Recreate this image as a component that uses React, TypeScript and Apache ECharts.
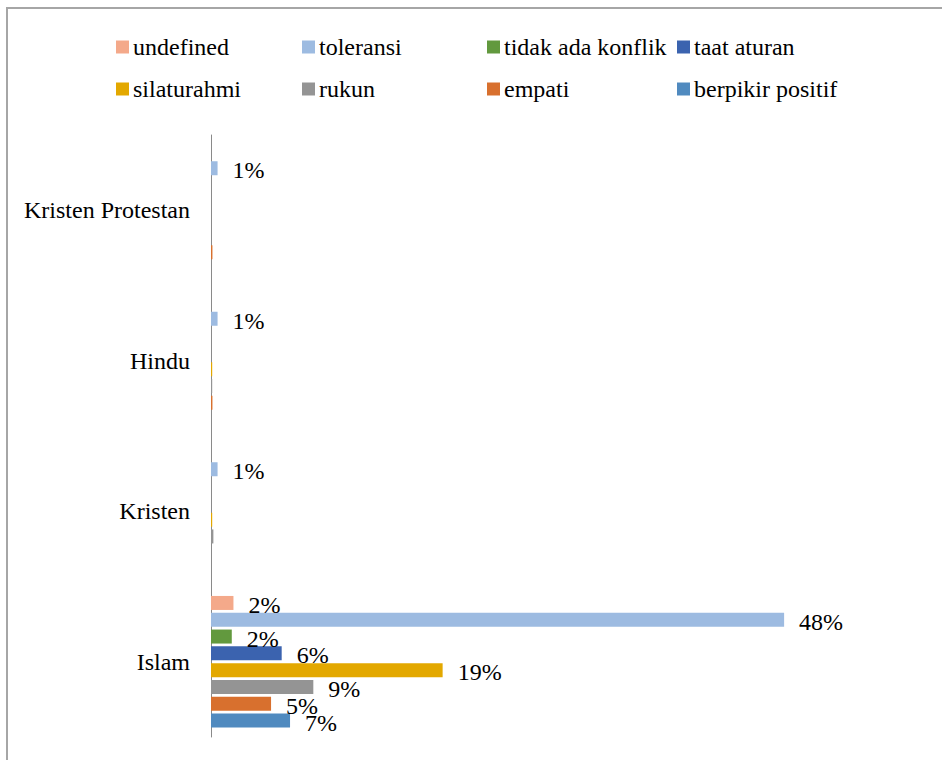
import React, { useEffect, useRef } from 'react';
import * as echarts from 'echarts';

const categories = ['Islam', 'Kristen', 'Hindu', 'Kristen Protestan'];
const seriesNames = [
  'undefined',
  'toleransi',
  'tidak ada konflik',
  'taat aturan',
  'silaturahmi',
  'rukun',
  'empati',
  'berpikir positif',
];
const seriesColors = ['#F4A98A', '#9DBBE1', '#62993E', '#3B63AF', '#E3A800', '#949494', '#D8702E', '#508ABF'];

const undefinedValues = [1.88, 0, 0, 0];
const toleransiValues = [48.0, 0.55, 0.55, 0.55];
const tidakAdaKonflikValues = [1.74, 0, 0, 0];
const taatAturanValues = [5.92, 0, 0, 0];
const silaturahmiValues = [19.4, 0.1, 0.1, 0];
const rukunValues = [8.57, 0.2, 0.1, 0];
const empatiValues = [5.03, 0, 0.12, 0.12];
const berpikirPositifValues = [6.62, 0, 0, 0];

const seriesValues = [
  undefinedValues,
  toleransiValues,
  tidakAdaKonflikValues,
  taatAturanValues,
  silaturahmiValues,
  rukunValues,
  empatiValues,
  berpikirPositifValues,
];

const legendLefts = [116, 302, 487, 677];
const legendTops = [35, 77];

const FONT = 'Liberation Serif';

export default function App() {
  const ref = useRef<HTMLDivElement>(null);
  useEffect(() => {
    if (!ref.current) return;
    const chart = echarts.init(ref.current, null, { renderer: 'svg' });
    const legends = seriesNames.map((name, i) => ({
      data: [name],
      left: legendLefts[i % 4],
      top: legendTops[Math.floor(i / 4)],
      icon: 'rect',
      itemWidth: 13,
      itemHeight: 13,
      padding: 0,
      selectedMode: false,
      textStyle: { fontFamily: FONT, fontSize: 24, color: '#000', lineHeight: 24, padding: [0, 0, 0, -1] },
    }));
    const series = seriesNames.map((name, i) => ({
      name,
      type: 'bar',
      data: seriesValues[i],
      barWidth: 14,
      barGap: '20%',
      itemStyle: { color: seriesColors[i] },
      label: {
        show: true,
        position: 'right',
        distance: 15,
        offset: [0, 2],
        fontFamily: FONT,
        fontSize: 24,
        color: '#000',
        formatter: (p: any) => (p.value >= 0.5 ? Math.round(p.value) + '%' : ''),
      },
    }));
    chart.setOption({
      animation: false,
      backgroundColor: '#fff',
      textStyle: { fontFamily: FONT },
      legend: legends,
      grid: { left: 211, right: 134, top: 135, bottom: 23, containLabel: false },
      xAxis: {
        type: 'value',
        min: 0,
        max: 50,
        show: false,
        splitLine: { show: false },
      },
      yAxis: {
        type: 'category',
        data: categories,
        axisLine: { show: true, lineStyle: { color: '#8a8a8a', width: 1 } },
        axisTick: { show: false },
        axisLabel: { fontFamily: FONT, fontSize: 24, color: '#000', margin: 21 },
      },
      series,
      graphic: [
        {
          type: 'rect',
          shape: { x: 7, y: 8, width: 1000, height: 1000 },
          style: { fill: 'none', stroke: '#a6a6a6', lineWidth: 2 },
          silent: true,
        },
      ],
    });
    return () => chart.dispose();
  }, []);
  return <div ref={ref} style={{ position: 'fixed', left: 0, top: 0, width: 942, height: 760 }} />;
}
